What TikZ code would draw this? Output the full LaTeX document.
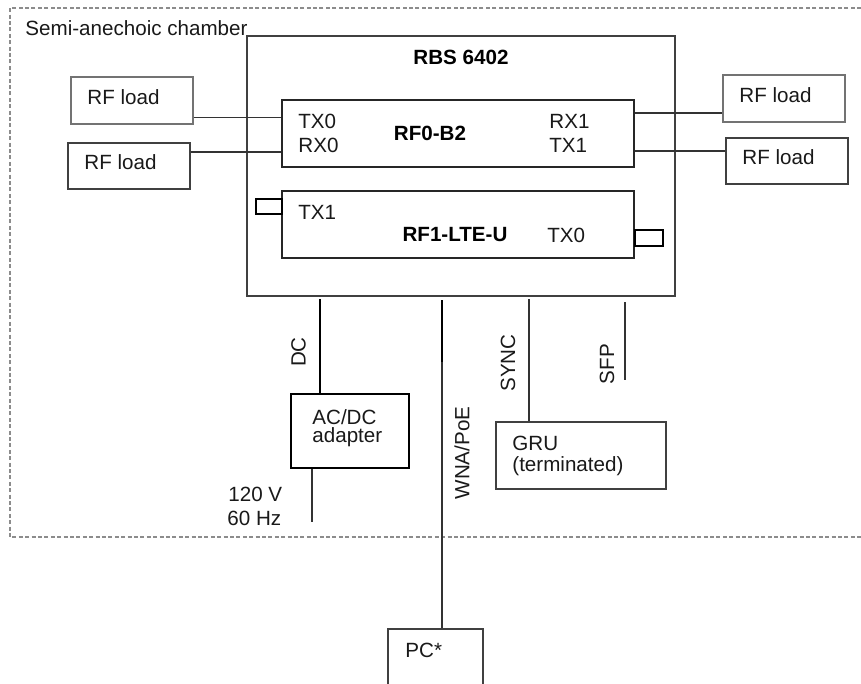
\documentclass[tikz,border=0pt]{standalone}
\usepackage{fontspec}
\setmainfont{Liberation Sans}
\begin{document}
\begin{tikzpicture}[x=0.5pt,y=-0.5pt,
  box/.style={draw=black!75,line width=0.6pt,inner sep=0pt},
  txt/.style={inner sep=0pt,font=\fontsize{10.3}{12}\selectfont,text=black!90},
  btxt/.style={inner sep=0pt,font=\fontsize{10.3}{12}\selectfont\bfseries},
  wire/.style={draw=black!80,line width=0.6pt},
  thick wire/.style={draw=black,line width=1pt},
  chamber/.style={draw=black!45,line width=0.6pt,dash pattern=on 2pt off 1.2pt}]
\clip (0,0) rectangle (861,684);
% chamber
\draw[chamber] (861,8) -- (10,8) -- (10,537) -- (861,537);
\node[txt,anchor=west] (chtitle) at (25,28) {Semi-anechoic chamber};
% main boxes
\node[box,minimum width=214pt,minimum height=130pt] (rbs) at (461,166) {};
\node[btxt] (rbstitle) at (461,57) {RBS 6402};
\node[box,draw=black!85,minimum width=176pt,minimum height=33.5pt] (rf0) at (458,133.5) {};
\node[box,draw=black!85,minimum width=176pt,minimum height=33.5pt] (rf1) at (458,224.5) {};
\node[box,draw=black,line width=0.8pt,minimum width=13pt,minimum height=7.5pt] (p1) at (269,206.5) {};
\node[box,draw=black,line width=0.8pt,minimum width=14pt,minimum height=8pt] (p2) at (649,238) {};
% RF0 labels
\node[txt,anchor=west] (tx0a) at (298,121) {TX0};
\node[txt,anchor=west] (rx0a) at (298,145) {RX0};
\node[btxt] (rf0t) at (430,133) {RF0-B2};
\node[txt,anchor=west] (rx1a) at (549,121) {RX1};
\node[txt,anchor=west] (tx1a) at (549,145) {TX1};
% RF1 labels
\node[txt,anchor=west] (tx1b) at (298,212) {TX1};
\node[btxt] (rf1t) at (455,235) {RF1-LTE-U};
\node[txt,anchor=west] (tx0b) at (547,235) {TX0};
% RF loads
\node[box,draw=black!55,minimum width=61pt,minimum height=23.5pt] (rl1) at (132,100.5) {};
\node[txt,anchor=west] (rl1t) at (87,97) {RF load};
\node[box,minimum width=61pt,minimum height=23pt] (rl2) at (129,166) {};
\node[txt,anchor=west] (rl2t) at (84,162) {RF load};
\node[box,draw=black!55,minimum width=61pt,minimum height=23.5pt] (rl3) at (784,98.5) {};
\node[txt,anchor=west] (rl3t) at (739,95) {RF load};
\node[box,minimum width=61pt,minimum height=23pt] (rl4) at (787,161) {};
\node[txt,anchor=west] (rl4t) at (742,157) {RF load};
% load wires
\draw[wire] (rl1.east |- 0,117.5) -- (rf0.west |- 0,117.5);
\draw[wire] (rl2.east |- 0,152) -- (rf0.west |- 0,152);
\draw[wire] (rf0.east |- 0,113) -- (rl3.west |- 0,113);
\draw[wire] (rf0.east |- 0,151) -- (rl4.west |- 0,151);
% lower boxes
\node[box,draw=black,line width=0.9pt,minimum width=59pt,minimum height=37pt] (acdc) at (350,431) {};
\node[txt,anchor=west] (acdc1) at (312,417) {AC/DC};
\node[txt,anchor=west] (acdc2) at (312,437) {adapter};
\node[box,minimum width=85pt,minimum height=33.5pt] (gru) at (581,455.5) {};
\node[txt,anchor=west] (gru1) at (512,443) {GRU};
\node[txt,anchor=west] (gru2) at (512,466) {(terminated)};
\node[box,minimum width=47.5pt,minimum height=41pt] (pc) at (435.5,670) {};
\node[txt,anchor=west] (pct) at (405,650) {PC*};
% vertical wires
\draw[thick wire] (320,299) -- (acdc.north -| 320,0);
\node[txt,rotate=90] (dclab) at (298.5,352) {DC};
\draw[wire] (acdc.south -| 312,0) coordinate (acb) -- (312,522) coordinate (mains);
\node[txt,anchor=west] (v120) at (228,494) {120 V};
\node[txt,anchor=west] (hz60) at (227,518) {60 Hz};
\draw[thick wire] (442,300) coordinate (wnatop) -- (442,362) coordinate (wnamid);
\draw[wire] (wnamid) -- (pc.north -| 442,0);
\node[txt,rotate=90] (wnalab) at (462,453) {WNA/PoE};
\draw[wire] (529,299) coordinate (synctop) -- (gru.north -| 529,0);
\node[txt,rotate=90] (synclab) at (508,363) {SYNC};
\draw[wire] (625,302) coordinate (sfptop) -- (625,380) coordinate (sfpend);
\node[txt,rotate=90] (sfplab) at (607,364) {SFP};
\end{tikzpicture}
\end{document}
